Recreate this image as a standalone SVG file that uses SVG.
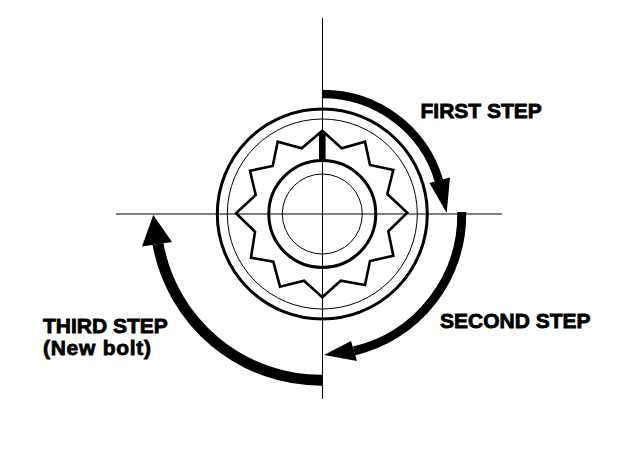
<svg xmlns="http://www.w3.org/2000/svg" width="640" height="454" viewBox="0 0 640 454">
<style>
.l{fill:none;stroke:#000}
.h{fill:#000;stroke:none}
text{font-family:"Liberation Sans",Arial,sans-serif;font-weight:bold;font-size:21px;fill:#000;stroke:#000;stroke-width:.8}
</style>
<rect width="640" height="454" fill="#fff"/>
<g id="axes">
<path class="l" stroke-width="1" d="M322.5 18V399M116 214H502"/>
</g>
<g id="bolt">
<circle class="l" stroke-width="3" cx="322.3" cy="214" r="105"/>
<circle class="l" stroke-width="1" cx="322.3" cy="214" r="95"/>
<path class="l" stroke-width="2.6" stroke-linejoin="miter" d="M322.3 130.7L341.7 148.3L365 141.7L370 165L393.3 170L387.3 194L407.3 212.7L388.3 231.3L393.3 255.7L370 261L365 285L340.7 280.7L322.3 297.3L304 280.7L280 286.7L273.3 261.7L251 257.7L255 231.7L236 213.3L255.7 195L250 170.7L272.7 166L277.7 141.7L301.7 148.3Z"/>
<circle class="l" stroke-width="3" cx="322.3" cy="214" r="53.5"/>
<circle class="l" stroke-width="1" cx="322.3" cy="214" r="40"/>
<path class="h" d="M319 132H325.6V160.5H319Z"/>
</g>
<g id="first-step">
<path class="l" stroke-width="8.500" d="M322 94A121 120 0 0 1 439 181"/>
<path class="h" d="M429.500 183L450 177.500L446.700 213Z"/>
<text x="420.500" y="118">FIRST STEP</text>
</g>
<g id="second-step">
<path class="l" stroke-width="9" d="M461.700 212A140 140 0 0 1 354 351"/>
<path class="h" d="M351 341L357 361L324 355Z"/>
<text x="440" y="328">SECOND STEP</text>
</g>
<g id="third-step">
<path class="l" stroke-width="11" d="M322 380.300A166 166 0 0 1 158 244"/>
<path class="h" d="M142 246.500L172 242L153.300 215Z"/>
<text x="43" y="332.500">THIRD STEP</text>
<text x="43" y="355" textLength="108" lengthAdjust="spacing">(New bolt)</text>
</g>
</svg>
